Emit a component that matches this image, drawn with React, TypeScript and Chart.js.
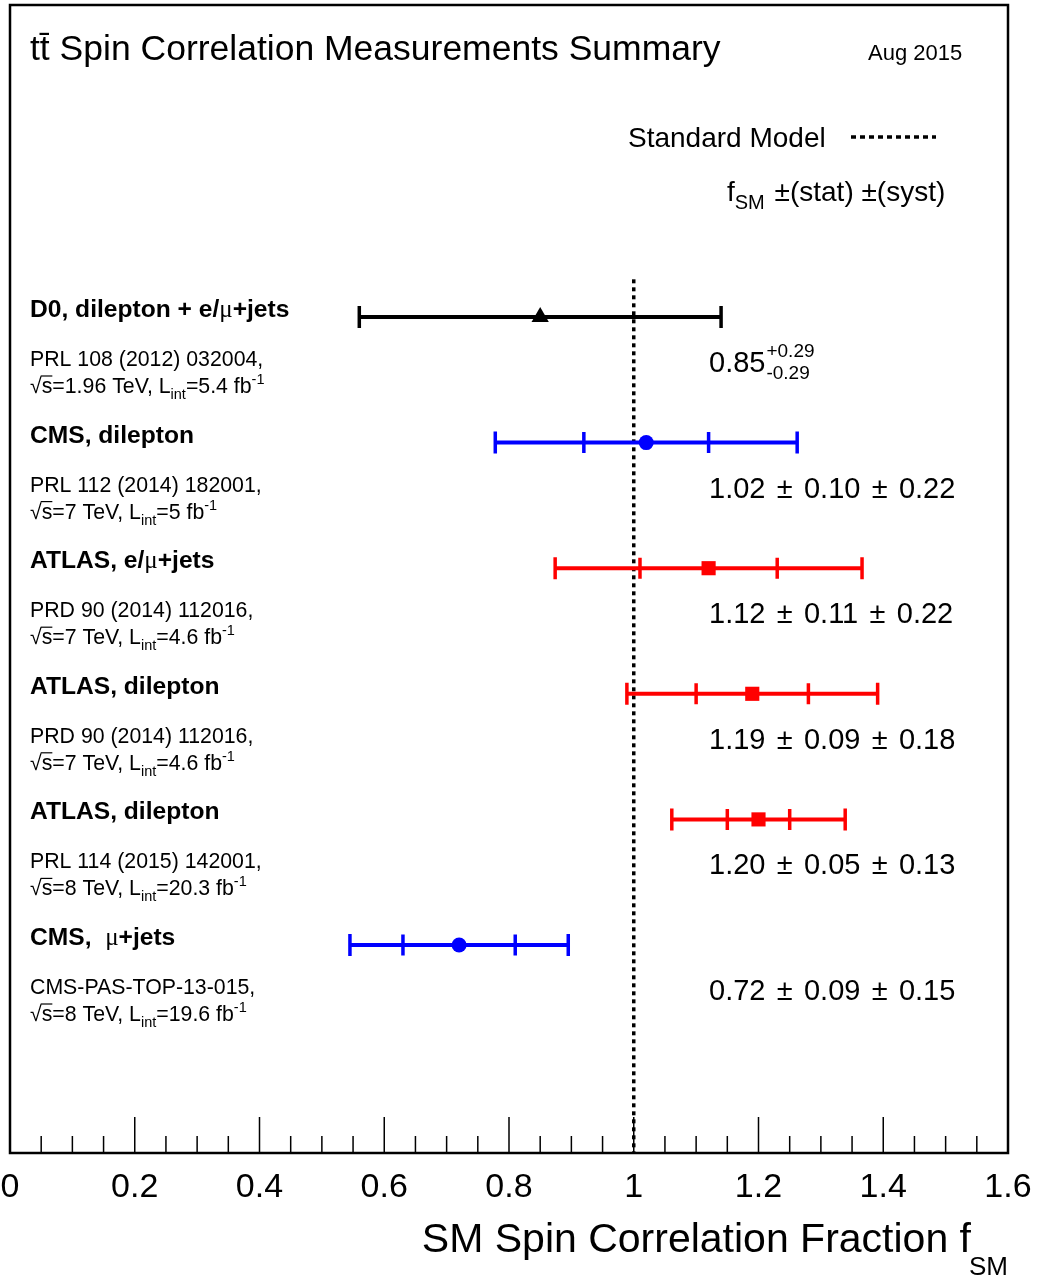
import React, { useEffect, useRef } from 'react';
import { Chart, registerables } from 'chart.js';

Chart.register(...registerables);

// ---------------- data ----------------
const experimentLabels = [
  'D0, dilepton + e/μ+jets',
  'CMS, dilepton',
  'ATLAS, e/μ+jets',
  'ATLAS, dilepton',
  'ATLAS, dilepton',
  'CMS,  μ+jets',
];
const references = [
  'PRL 108 (2012) 032004,',
  'PRL 112 (2014) 182001,',
  'PRD 90 (2014) 112016,',
  'PRD 90 (2014) 112016,',
  'PRL 114 (2015) 142001,',
  'CMS-PAS-TOP-13-015,',
];
const energies = ['1.96', '7', '7', '7', '8', '8'];
const luminosities = ['5.4', '5', '4.6', '4.6', '20.3', '19.6'];
const centralValues = [0.85, 1.02, 1.12, 1.19, 1.2, 0.72];
const statErrors: (number | null)[] = [null, 0.1, 0.11, 0.09, 0.05, 0.09];
const systErrors: (number | null)[] = [null, 0.22, 0.22, 0.18, 0.13, 0.15];
const totalErrors = [0.29, 0.242, 0.246, 0.201, 0.139, 0.175];
const seriesColors = ['#000000', '#0000ff', '#ff0000', '#ff0000', '#ff0000', '#0000ff'];
const markerStyles = ['triangle', 'circle', 'rect', 'rect', 'rect', 'circle'];
const markerRadii = [10, 7.5, 10, 10, 10, 7.5];

const xMajorTicks = [0, 0.2, 0.4, 0.6, 0.8, 1, 1.2, 1.4, 1.6];
const xTickLabels = ['0', '0.2', '0.4', '0.6', '0.8', '1', '1.2', '1.4', '1.6'];
const xMinorTicks = [
  0.05, 0.1, 0.15, 0.25, 0.3, 0.35, 0.45, 0.5, 0.55, 0.65, 0.7, 0.75, 0.85, 0.9, 0.95,
  1.05, 1.1, 1.15, 1.25, 1.3, 1.35, 1.45, 1.5, 1.55,
];
const standardModelValue = 1;
const smLineTopRow = -0.3;

const X_MIN = 0;
const X_MAX = 1.6;
const Y_MIN = -2.484;
const Y_MAX = 6.656;

// ---------------- helpers ----------------
const SANS = '"Liberation Sans", Arial, Helvetica, sans-serif';
const SERIF = '"Liberation Serif", "Times New Roman", serif';
const font = (size: number, bold = false, family = SANS) => `${bold ? 'bold ' : ''}${size}px ${family}`;

type Part = { t: string; size: number; bold?: boolean; dy?: number; dx?: number; family?: string };
function drawParts(ctx: CanvasRenderingContext2D, x: number, y: number, parts: Part[]) {
  let cx = x;
  for (const p of parts) {
    cx += p.dx || 0;
    ctx.font = font(p.size, p.bold, p.family || SANS);
    ctx.fillText(p.t, cx, y + (p.dy || 0));
    cx += ctx.measureText(p.t).width;
  }
  return cx;
}

const decorPlugin = {
  id: 'decor',
  beforeDatasetsDraw(chart: any) {
    const ctx: CanvasRenderingContext2D = chart.ctx;
    const xs = chart.scales.x;
    const ys = chart.scales.y;
    const area = chart.chartArea;
    ctx.save();
    // Standard model dotted line
    const smx = xs.getPixelForValue(standardModelValue);
    ctx.strokeStyle = '#000';
    ctx.lineWidth = 3.5;
    ctx.setLineDash([4, 4]);
    ctx.beginPath();
    ctx.moveTo(smx, ys.getPixelForValue(smLineTopRow));
    ctx.lineTo(smx, area.bottom);
    ctx.stroke();
    ctx.setLineDash([]);

    // error bars
    centralValues.forEach((v, i) => {
      const y = ys.getPixelForValue(i);
      const lo = xs.getPixelForValue(v - totalErrors[i]);
      const hi = xs.getPixelForValue(v + totalErrors[i]);
      ctx.strokeStyle = seriesColors[i];
      ctx.lineWidth = 4;
      ctx.beginPath();
      ctx.moveTo(lo, y);
      ctx.lineTo(hi, y);
      ctx.stroke();
      ctx.lineWidth = 3.5;
      ctx.beginPath();
      ctx.moveTo(lo, y - 11);
      ctx.lineTo(lo, y + 11);
      ctx.moveTo(hi, y - 11);
      ctx.lineTo(hi, y + 11);
      const s = statErrors[i];
      if (s !== null) {
        const sl = xs.getPixelForValue(v - s);
        const sh = xs.getPixelForValue(v + s);
        ctx.moveTo(sl, y - 10.5);
        ctx.lineTo(sl, y + 10.5);
        ctx.moveTo(sh, y - 10.5);
        ctx.lineTo(sh, y + 10.5);
      }
      ctx.stroke();
    });
    ctx.restore();
  },
  afterDraw(chart: any) {
    const ctx: CanvasRenderingContext2D = chart.ctx;
    const xs = chart.scales.x;
    const ys = chart.scales.y;
    const area = chart.chartArea;
    ctx.save();
    ctx.fillStyle = '#000';
    ctx.strokeStyle = '#000';
    ctx.textBaseline = 'alphabetic';

    // frame
    ctx.lineWidth = 2.5;
    ctx.strokeRect(area.left, area.top, area.right - area.left, area.bottom - area.top);

    // axis ticks (inside, pointing up)
    ctx.lineWidth = 1.5;
    ctx.beginPath();
    xMajorTicks.forEach((t) => {
      const px = xs.getPixelForValue(t);
      ctx.moveTo(px, area.bottom);
      ctx.lineTo(px, area.bottom - 36);
    });
    xMinorTicks.forEach((t) => {
      const px = xs.getPixelForValue(t);
      ctx.moveTo(px, area.bottom);
      ctx.lineTo(px, area.bottom - 17);
    });
    ctx.stroke();

    // tick labels
    ctx.font = font(34);
    ctx.textAlign = 'center';
    xMajorTicks.forEach((t, i) => {
      ctx.fillText(xTickLabels[i], xs.getPixelForValue(t), area.bottom + 44);
    });

    // axis title
    ctx.textAlign = 'right';
    ctx.font = font(26);
    const subW = ctx.measureText('SM').width;
    ctx.fillText('SM', area.right, area.bottom + 122);
    ctx.font = font(41);
    ctx.fillText('SM Spin Correlation Fraction f', area.right - subW + 2, area.bottom + 99);
    ctx.textAlign = 'left';

    // title
    ctx.font = font(35.5);
    ctx.fillText('tt\u0304 Spin Correlation Measurements Summary', 30, 60);
    ctx.font = font(22);
    ctx.fillText('Aug 2015', 868, 60);

    // legend
    ctx.font = font(28);
    ctx.fillText('Standard Model', 628, 147);
    ctx.lineWidth = 3.5;
    ctx.setLineDash([5, 4]);
    ctx.beginPath();
    ctx.moveTo(851, 137);
    ctx.lineTo(936, 137);
    ctx.stroke();
    ctx.setLineDash([]);
    drawParts(ctx, 727, 201, [
      { t: 'f', size: 28 },
      { t: 'SM', size: 20, dy: 8 },
      { t: ' ±(stat) ±(syst)', size: 28, dx: 2 },
    ]);

    // per measurement text
    centralValues.forEach((v, i) => {
      const y = ys.getPixelForValue(i);
      const labelParts: Part[] = [];
      experimentLabels[i].split(/(μ)/).forEach((seg) => {
        if (!seg) return;
        if (seg === 'μ') labelParts.push({ t: seg, size: 25, family: SERIF });
        else labelParts.push({ t: seg, size: 24.6, bold: true });
      });
      drawParts(ctx, 30, y, labelParts);

      ctx.font = font(21.3);
      ctx.fillText(references[i], 30, y + 49);
      const by = y + 76;
      ctx.font = font(21.3);
      const rw = ctx.measureText('√').width;
      ctx.fillText('√', 30, by);
      const sw = ctx.measureText('s').width;
      ctx.fillText('s', 30 + rw, by);
      ctx.lineWidth = 1.2;
      ctx.beginPath();
      ctx.moveTo(30 + rw - 1, by - 17);
      ctx.lineTo(30 + rw + sw, by - 17);
      ctx.stroke();
      drawParts(ctx, 30 + rw + sw, by, [
        { t: `=${energies[i]} TeV, L`, size: 21.3 },
        { t: 'int', size: 14.5, dy: 6 },
        { t: `=${luminosities[i]} fb`, size: 21.3 },
        { t: '-1', size: 14.5, dy: -9 },
      ]);

      // value text
      const vy = y + 55;
      const s = statErrors[i];
      const sy = systErrors[i];
      if (s === null || sy === null) {
        ctx.font = font(29);
        const main = v.toFixed(2);
        ctx.fillText(main, 709, vy);
        const mw = ctx.measureText(main).width;
        ctx.font = font(19);
        ctx.fillText('+' + totalErrors[i].toFixed(2), 709 + mw + 1, y + 40);
        ctx.fillText('-' + totalErrors[i].toFixed(2), 709 + mw + 1, y + 62);
      } else {
        const pieces = [v.toFixed(2), '±', s.toFixed(2), '±', sy.toFixed(2)];
        ctx.font = font(29);
        let cx = 709;
        pieces.forEach((p) => {
          ctx.fillText(p, cx, vy);
          cx += ctx.measureText(p).width + 11.3;
        });
      }
    });
    ctx.restore();
  },
};

export default function App() {
  const canvasRef = useRef<HTMLCanvasElement | null>(null);
  useEffect(() => {
    const canvas = canvasRef.current;
    if (!canvas) return;
    const chart = new Chart(canvas, {
      type: 'scatter',
      data: {
        datasets: [
          {
            label: 'Measurements',
            data: centralValues.map((v, i) => ({ x: v, y: i })),
            pointStyle: markerStyles as any,
            pointRadius: markerRadii,
            pointBackgroundColor: seriesColors,
            pointBorderColor: seriesColors,
            pointBorderWidth: 0,
          },
        ],
      },
      options: {
        responsive: false,
        animation: false,
        events: [],
        layout: { autoPadding: false, padding: { left: 10, right: 35, top: 5, bottom: 125 } },
        plugins: { legend: { display: false }, tooltip: { enabled: false }, title: { display: false } },
        scales: {
          x: { type: 'linear', min: X_MIN, max: X_MAX, display: false },
          y: { type: 'linear', min: Y_MIN, max: Y_MAX, reverse: true, display: false },
        },
      },
      plugins: [decorPlugin],
    });
    return () => chart.destroy();
  }, []);
  return (
    <div style={{ position: 'fixed', left: 0, top: 0, width: 1043, height: 1278, background: '#fff' }}>
      <canvas ref={canvasRef} width={1043} height={1278} style={{ display: 'block' }} />
    </div>
  );
}
